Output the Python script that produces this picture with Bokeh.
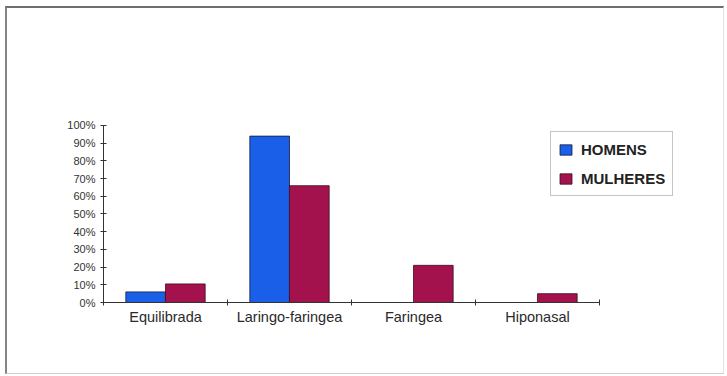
from bokeh.plotting import figure
from bokeh.layouts import column
from bokeh.models import (Range1d, LinearAxis, FixedTicker, NumeralTickFormatter,
                          Legend, LegendItem, ColumnDataSource)
from bokeh.transform import dodge
from bokeh.embed import file_html
from bokeh.resources import INLINE

# Voice resonance type by sex (share of subjects)
categories = ["Equilibrada", "Laringo-faringea", "Faringea", "Hiponasal"]
homens = [0.06, 0.94, 0.0, 0.0]
mulheres = [0.105, 0.66, 0.21, 0.05]
y_ticks = [0.0, 0.1, 0.2, 0.3, 0.4, 0.5, 0.6, 0.7, 0.8, 0.9, 1.0]
series_names = ["HOMENS", "MULHERES"]

BLUE = "#1a5fe8"
MAROON = "#a3124c"
FONT = "Liberation Sans"

# each category occupies one unit slot; its bars sit around the slot centre
n = len(categories)
centers = [i + 0.5 for i in range(n)]
source = ColumnDataSource(dict(pos=centers, cat=categories, homens=homens, mulheres=mulheres))

# the plotting area runs past the axes so the legend can sit at the right
p = figure(x_range=Range1d(0, 4.984), y_range=Range1d(0, 1.661),
           width=716, height=365, output_backend="svg", toolbar_location=None,
           x_axis_location=None, y_axis_location=None,
           min_border_left=96, min_border_right=2, min_border_top=0, min_border_bottom=71)
p.outline_line_color = None
p.grid.visible = False
p.background_fill_color = "#ffffff"
p.border_fill_color = "#ffffff"

r_h = p.vbar(x=dodge("pos", -0.16), top="homens", width=0.32, source=source,
             fill_color=BLUE, line_color="#1b1b3a", line_width=0.8)
r_m = p.vbar(x=dodge("pos", 0.16), top="mulheres", width=0.32, source=source,
             fill_color=MAROON, line_color="#3a1020", line_width=0.8)

# value axis with cross tick marks
yaxis = LinearAxis(ticker=FixedTicker(ticks=y_ticks), formatter=NumeralTickFormatter(format="0%"),
                   bounds=(0, 1))
yaxis.major_tick_in = 3
yaxis.major_tick_out = 3
yaxis.minor_tick_line_color = None
yaxis.axis_line_color = "#333333"
yaxis.major_tick_line_color = "#333333"
yaxis.major_label_text_font = FONT
yaxis.major_label_text_font_size = "11px"
yaxis.major_label_text_color = "#333333"
yaxis.major_label_standoff = 5
p.add_layout(yaxis, "left")

# category axis line: tick marks between categories
edge_axis = LinearAxis(ticker=FixedTicker(ticks=list(range(n + 1))), bounds=(0, n))
edge_axis.major_tick_in = 3
edge_axis.major_tick_out = 3
edge_axis.minor_tick_line_color = None
edge_axis.axis_line_color = "#333333"
edge_axis.major_tick_line_color = "#333333"
edge_axis.major_label_text_font_size = "0px"
edge_axis.major_label_text_alpha = 0
edge_axis.major_label_standoff = 0
p.add_layout(edge_axis, "below")

# category names under each slot
cat_axis = LinearAxis(ticker=FixedTicker(ticks=centers), bounds=(0, n),
                      major_label_overrides={c: name for c, name in zip(centers, categories)})
cat_axis.axis_line_color = None
cat_axis.major_tick_line_color = None
cat_axis.minor_tick_line_color = None
cat_axis.major_tick_in = 0
cat_axis.major_tick_out = 0
cat_axis.major_label_standoff = 3
cat_axis.major_label_text_font = FONT
cat_axis.major_label_text_font_size = "14.5px"
cat_axis.major_label_text_color = "#2a2a2a"
p.add_layout(cat_axis, "below")

legend = Legend(items=[LegendItem(label=series_names[0], renderers=[r_h]),
                       LegendItem(label=series_names[1], renderers=[r_m])],
                location=(447, 106))
legend.border_line_color = "#8a8a8a"
legend.border_line_width = 1
legend.background_fill_color = "#ffffff"
legend.label_text_font = FONT
legend.label_text_font_style = "bold"
legend.label_text_font_size = "15px"
legend.label_text_color = "#222222"
legend.glyph_width = 15
legend.glyph_height = 13
legend.label_height = 20
legend.spacing = 9
legend.padding = 7
legend.label_standoff = 8
legend.margin = 0
p.add_layout(legend, "center")

# framed panel around the chart
panel = column(p, styles={"margin-left": "5px", "margin-top": "6px",
                          "border-left": "2px solid #858585", "border-top": "2px solid #6e6e6e",
                          "border-right": "1px solid #e2e2e2", "border-bottom": "1px solid #d0d0d0"})

open("out.html", "w").write(file_html(panel, INLINE))
